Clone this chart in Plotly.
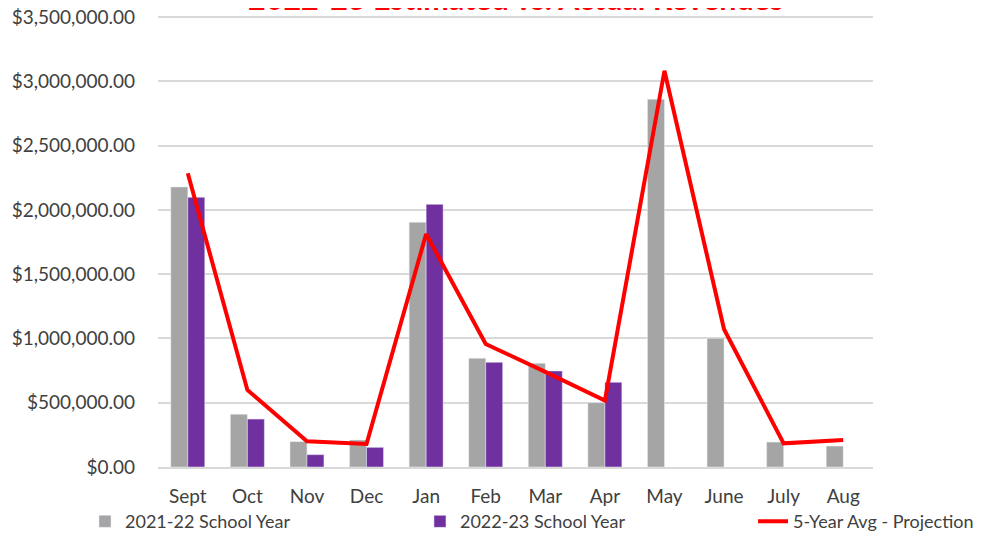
import plotly.graph_objects as go

months = ["Sept", "Oct", "Nov", "Dec", "Jan", "Feb", "Mar", "Apr", "May", "June", "July", "Aug"]
sy_2021_22 = [2178000, 410000, 197000, 210000, 1903000, 845000, 806000, 500000, 2860000, 1001000, 194000, 163000]
sy_2022_23 = [2098000, 373000, 96000, 153000, 2043000, 814000, 747000, 659000, None, None, None, None]
avg_5yr = [2284000, 599000, 200000, 179000, 1812000, 957000, 740000, 516000, 3082000, 1071000, 184000, 210000]
title_text = "2022-23 Estimated vs. Actual Revenues"

font = "Lato, 'Open Sans', sans-serif"

fig = go.Figure()
fig.add_trace(go.Bar(x=months, y=sy_2021_22, name="2021-22 School Year",
                     marker=dict(color="#a5a5a5"), legend="legend"))
fig.add_trace(go.Bar(x=months, y=sy_2022_23, name="2022-23 School Year",
                     marker=dict(color="#7030a0"), legend="legend2"))
fig.add_trace(go.Scatter(x=months, y=avg_5yr, name="5-Year Avg - Projection", mode="lines",
                         line=dict(color="#ff0000", width=4), legend="legend3"))

fig.add_annotation(text="<b>" + title_text + "</b>", xref="paper", yref="paper",
                   x=0.5, y=1 + 17 / 452, xanchor="center", yanchor="middle",
                   showarrow=False, font=dict(family=font, size=30.5, color="#ff0000"))

leg_common = dict(orientation="h", xanchor="left", y=-0.08, yanchor="top",
                  font=dict(size=18, color="#404040"), bgcolor="rgba(0,0,0,0)")

fig.update_layout(
    width=985, height=535,
    margin=dict(l=150, r=120, t=7, b=76, autoexpand=False),
    paper_bgcolor="white", plot_bgcolor="white",
    barmode="group", bargap=0.43, bargroupgap=0,
    font=dict(family=font, size=19, color="#404040"),
    xaxis=dict(showgrid=False, showline=True, linecolor="#d9d9d9", linewidth=2,
               ticks="", automargin=False, ticklabelstandoff=11,
               tickfont=dict(size=19, color="#404040")),
    yaxis=dict(range=[0, 3500000 * 452 / 450], tickvals=[0, 500000, 1000000, 1500000, 2000000,
                                                         2500000, 3000000, 3500000],
               tickformat="$,.2f", ticklabeloverflow="allow",
               showgrid=True, gridcolor="#d9d9d9", gridwidth=2, zeroline=False,
               ticks="", automargin=False, ticklabelstandoff=22,
               tickfont=dict(size=19, color="#404040")),
    legend=dict(x=-0.1021, **leg_common),
    legend2=dict(x=0.3664, **leg_common),
    legend3=dict(x=0.8322, **leg_common),
    showlegend=True,
)

fig.write_html("out.html")
